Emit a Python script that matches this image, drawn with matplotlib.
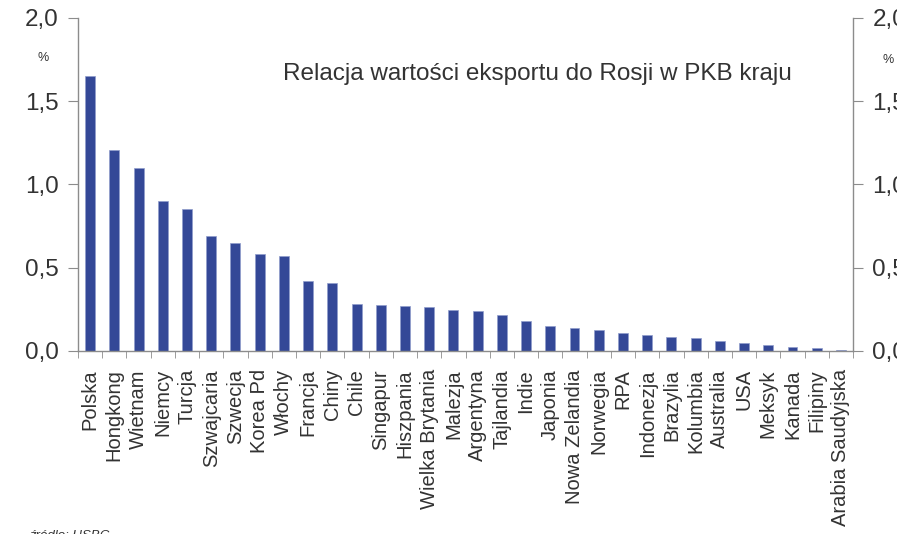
import matplotlib
matplotlib.use("Agg")
import matplotlib.pyplot as plt
from matplotlib.ticker import FuncFormatter, FixedLocator
import numpy as np

plt.rcParams['font.family'] = ['Liberation Sans', 'DejaVu Sans']

countries = ["Polska", "Hongkong", "Wietnam", "Niemcy", "Turcja", "Szwajcaria",
             "Szwecja", "Korea Pd", "Włochy", "Francja", "Chiny", "Chile",
             "Singapur", "Hiszpania", "Wielka Brytania", "Malezja", "Argentyna",
             "Tajlandia", "Indie", "Japonia", "Nowa Zelandia", "Norwegia", "RPA",
             "Indonezja", "Brazylia", "Kolumbia", "Australia", "USA", "Meksyk",
             "Kanada", "Filipiny", "Arabia Saudyjska"]
values = [1.65, 1.21, 1.10, 0.90, 0.85, 0.69, 0.65, 0.58, 0.57, 0.42, 0.41, 0.28,
          0.275, 0.27, 0.265, 0.245, 0.24, 0.215, 0.18, 0.15, 0.137, 0.127, 0.108,
          0.097, 0.087, 0.077, 0.058, 0.048, 0.038, 0.027, 0.017, 0.006]

title = "Relacja wartości eksportu do Rosji w PKB kraju"
source = "źródło: HSBC"

bar_color = "#344897"
text_color = "#333333"
spine_color = "#8c8c8c"

fig = plt.figure(figsize=(8.97, 5.34), dpi=100)
ax = fig.add_axes([0.087, 0.3427, 0.864, 0.6236])

x = np.arange(len(countries))
ax.bar(x, values, width=0.41, color=bar_color, edgecolor="#8f9ccc", linewidth=0.5)

ax.set_xlim(-0.5, len(countries) - 0.5)
ax.set_ylim(0, 2.0)
ax.set_yticks([0, 0.5, 1.0, 1.5, 2.0])
ax.yaxis.set_major_formatter(FuncFormatter(lambda v, p: f"{v:.1f}".replace(".", ",")))

# category labels, ticks sit between the bars
ax.set_xticks(x)
ax.set_xticklabels(countries, rotation=90, fontsize=14.5, color=text_color)
ax.xaxis.set_minor_locator(FixedLocator(np.arange(-0.5, len(countries), 1.0)))
ax.tick_params(axis="x", which="major", length=0, pad=13)
ax.tick_params(axis="x", which="minor", length=5, color=spine_color, direction="out")

ax.tick_params(axis="y", left=True, right=True, labelleft=True, labelright=True,
               direction="out", length=7, color=spine_color, labelsize=17.5,
               labelcolor=text_color, pad=7)

ax.spines["top"].set_visible(False)
for side in ["left", "right", "bottom"]:
    ax.spines[side].set_color(spine_color)
    ax.spines[side].set_linewidth(1.0)

fig.text(0.316, 0.862, title, ha="left", va="center", fontsize=17.5, color=text_color)

fig.text(0.048, 0.892, "%", ha="center", va="center", fontsize=9, color=text_color)
fig.text(0.990, 0.888, "%", ha="center", va="center", fontsize=9, color=text_color)
fig.text(0.032, -0.004, source, ha="left", va="center", fontsize=9.5,
         style="italic", color=text_color)

fig.savefig("out.png", dpi=100)
